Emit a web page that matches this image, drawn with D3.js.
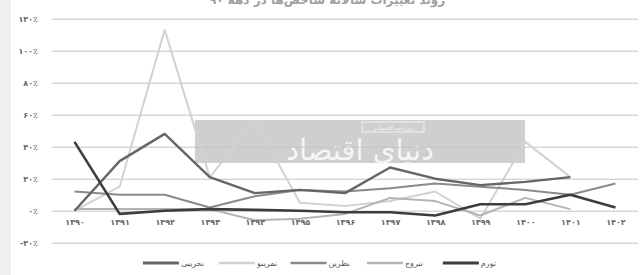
<!DOCTYPE html>
<html>
<head>
<meta charset="utf-8">
<script src="https://cdn.jsdelivr.net/npm/d3@7"></script>
<style>
  body { margin: 0; background: #fff; }
  svg { display: block; font-family: "DejaVu Sans", sans-serif; }
</style>
</head>
<body>
<div id="chart"></div>
<script>
// categories (years) and y tick labels
const years = ['۱۳۹۰', '۱۳۹۱', '۱۳۹۲', '۱۳۹۳', '۱۳۹۴', '۱۳۹۵', '۱۳۹۶', '۱۳۹۷', '۱۳۹۸', '۱۳۹۹', '۱۴۰۰', '۱۴۰۱', '۱۴۰۲']
const yTicks = [-20, 0, 20, 40, 60, 80, 100, 120]
const yTickLabels = ['-۲۰٪', '۰٪', '۲۰٪', '۴۰٪', '۶۰٪', '۸۰٪', '۱۰۰٪', '۱۲۰٪']

// series values (percent)
const tavarom = [43, -2, 0, 1, 0.5, 0, -1, -1, -3, 4, 4, 10, 2]
const tabruj = [1, 1, 1, 1, -6, -5, -2, 8, 6, -3, 8, 1, null]
const nazarin = [12, 10, 10, 2, 9, 13, 12, 14, 17, 15, 13, 10, 17]
const namrino = [0, 15, 113, 21, 56, 5, 3, 6, 12, -5, 43, 21, null]
const nakhribi = [0, 31, 48, 21, 11, 13, 11, 27, 20, 16, 18, 21, null]

const seriesNames = ['تورم', 'تبروج', 'نظرین', 'نمرینو', 'نخریبی']
const seriesValues = [tavarom, tabruj, nazarin, namrino, nakhribi]
const seriesColors = ['#3d3d3d', '#b4b4b4', '#8a8a8a', '#d2d2d2', '#666666']
const seriesWidths = [2.6, 2, 2, 2, 2.4]

const width = 644
const height = 275

const svg = d3.select('#chart').append('svg')
    .attr('width', width)
    .attr('height', height)

// light strip on the left edge
svg.append('rect')
    .attr('x', 0).attr('y', 0)
    .attr('width', 11).attr('height', height)
    .attr('fill', '#efefef')

// scales
const xScale = d3.scalePoint()
    .domain(years)
    .range([52, 638])
    .padding(0.5)

const yScale = d3.scaleLinear()
    .domain([-20, 120])
    .range([242.7, 18.7])

// title, cut by the top edge as in the picture
svg.append('text')
    .attr('x', 327)
    .attr('y', 4)
    .attr('text-anchor', 'middle')
    .attr('font-size', 12)
    .attr('font-weight', 'bold')
    .attr('fill', '#a0a0a0')
    .text('روند تغییرات سالانه شاخص‌ها در دهه ۹۰')

// watermark
const mark = svg.append('g')
mark.append('rect')
    .attr('x', 195).attr('y', 120)
    .attr('width', 330).attr('height', 43)
    .attr('fill', '#cfcfcf')
mark.append('rect')
    .attr('x', 362).attr('y', 122)
    .attr('width', 62).attr('height', 10)
    .attr('fill', 'none')
    .attr('stroke', '#f2f2f2')
mark.append('text')
    .attr('x', 393).attr('y', 129.5)
    .attr('text-anchor', 'middle')
    .attr('font-size', 6)
    .attr('fill', '#f2f2f2')
    .text('روزنامه اقتصادی')
mark.append('text')
    .attr('x', 360).attr('y', 160)
    .attr('text-anchor', 'middle')
    .attr('font-size', 29)
    .attr('fill', '#f5f5f5')
    .text('دنیای اقتصاد')

// gridlines and y labels
const yAxisGenerator = d3.axisLeft(yScale)
    .tickValues(yTicks)
    .tickSize(-(638 - 52))
    .tickFormat((d, i) => yTickLabels[i])

const yAxis = svg.append('g')
    .attr('transform', 'translate(52,0)')
    .call(yAxisGenerator)
yAxis.select('.domain').remove()
yAxis.selectAll('.tick line')
    .attr('stroke', '#c4c4c4')
    .attr('stroke-width', 1)
yAxis.selectAll('.tick text')
    .attr('x', -14)
    .attr('font-size', 8)
    .attr('font-weight', 'bold')
    .attr('fill', '#666')
    .attr('direction', 'ltr')
    .attr('font-family', '"DejaVu Sans", sans-serif')

// lines
const line = d3.line()
    .defined(d => d != null)
    .x((d, i) => xScale(years[i]))
    .y(d => yScale(d))

const drawOrder = [3, 1, 2, 4, 0]
drawOrder.forEach(k => {
    svg.append('path')
        .datum(seriesValues[k])
        .attr('fill', 'none')
        .attr('stroke', seriesColors[k])
        .attr('stroke-width', seriesWidths[k])
        .attr('stroke-linejoin', 'round')
        .attr('d', line)
})

// x labels under the zero line
const xAxisGenerator = d3.axisBottom(xScale)
    .tickSize(0)
    .tickPadding(9)

const xAxis = svg.append('g')
    .attr('transform', `translate(0,${yScale(0)})`)
    .call(xAxisGenerator)
xAxis.select('.domain').remove()
xAxis.selectAll('.tick text')
    .attr('font-size', 8)
    .attr('font-weight', 'bold')
    .attr('fill', '#666')
    .attr('font-family', '"DejaVu Sans", sans-serif')

// legend, right to left: text, then its line on the left
const legend = svg.append('g')
    .attr('transform', 'translate(0,263)')

seriesNames.forEach((name, i) => {
    const right = 496 - i * 73
    const item = legend.append('g')
    const label = item.append('text')
        .attr('x', right)
        .attr('y', 3)
        .attr('text-anchor', 'end')
        .attr('font-size', 8)
        .attr('fill', '#555')
        .text(name)
    const textWidth = label.node().getComputedTextLength()
    item.append('line')
        .attr('x1', right - textWidth - 38)
        .attr('x2', right - textWidth - 2)
        .attr('y1', 0).attr('y2', 0)
        .attr('stroke', seriesColors[i])
        .attr('stroke-width', seriesWidths[i] + 0.4)
})
</script>
</body>
</html>
